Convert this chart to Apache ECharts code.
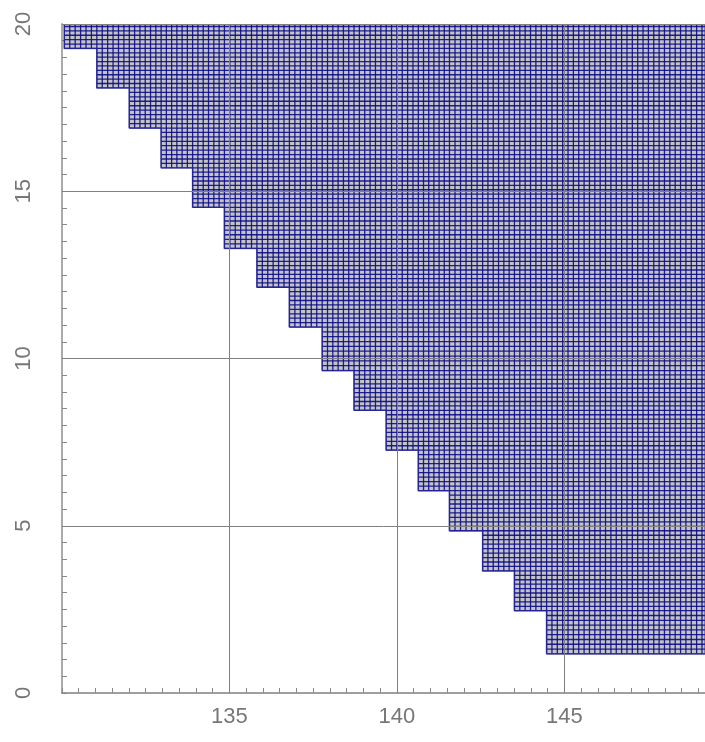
<!DOCTYPE html>
<html><head><meta charset="utf-8">
<script src="https://cdn.jsdelivr.net/npm/echarts@6/dist/echarts.min.js"></script>
<style>html,body{margin:0;padding:0;background:#fff}#c{width:705px;height:742px}</style>
</head><body><div id="c"></div>
<script>
// Staircase region: each step (column) starts at stepLeft[i] and is filled from stepBottom[i] up to regionTop
const stepLeft = [130.07,131.04,132.01,132.96,133.90,134.85,135.82,136.79,137.77,138.72,139.68,140.64,141.57,142.56,143.51,144.47];
const stepBottom = [19.27,18.09,16.89,15.70,14.52,13.29,12.13,10.94,9.64,8.45,7.26,6.05,4.85,3.65,2.46,1.17];
const regionTop = 20;
const regionRight = 149.2;
const gridX = [135,140,145];
const gridY = [5,10,15,20];
const xTickLabels = [135,140,145];
const yTickLabels = [0,5,10,15,20];
const meshCols = 6;   // mesh cells per step, horizontally
const meshRows = 9;   // mesh cells per step, vertically

const FONT = 'Liberation Sans, Arial, sans-serif';
const last = stepLeft.length - 1;

function renderItem(params, api) {
  const children = [];
  const pts = [];
  pts.push(api.coord([stepLeft[0], regionTop]));
  pts.push(api.coord([regionRight, regionTop]));
  pts.push(api.coord([regionRight, stepBottom[last]]));
  for (let i = last; i >= 0; i--) {
    pts.push(api.coord([stepLeft[i], stepBottom[i]]));
    if (i > 0) pts.push(api.coord([stepLeft[i], stepBottom[i - 1]]));
  }
  children.push({type:'polygon', shape:{points:pts}, style:{fill:'#c4c4c4', stroke:null}});
  const lineStyle = {stroke:'#0c0c88', lineWidth:1.3, opacity:0.9};
  // vertical mesh lines
  for (let i = 0; i <= last; i++) {
    const w = i < last ? stepLeft[i + 1] - stepLeft[i] : stepLeft[last] - stepLeft[last - 1];
    const end = i < last ? stepLeft[i + 1] - 1e-6 : regionRight;
    for (let k = 0; ; k++) {
      const x = stepLeft[i] + k * w / meshCols;
      if (x > end) break;
      const a = api.coord([x, stepBottom[i]]), b = api.coord([x, regionTop]);
      children.push({type:'line', shape:{x1:a[0], y1:a[1], x2:b[0], y2:b[1]}, style:lineStyle});
    }
  }
  // horizontal mesh lines
  for (let i = last; i >= 0; i--) {
    const h = i > 0 ? stepBottom[i - 1] - stepBottom[i] : stepBottom[0] - stepBottom[1];
    const end = i > 0 ? stepBottom[i - 1] - 1e-6 : regionTop;
    for (let k = 0; ; k++) {
      const y = stepBottom[i] + k * h / meshRows;
      if (y > end) break;
      const a = api.coord([stepLeft[i], y]), b = api.coord([regionRight, y]);
      children.push({type:'line', shape:{x1:a[0], y1:a[1], x2:b[0], y2:b[1]}, style:lineStyle});
    }
  }
  // outline
  children.push({type:'polygon', shape:{points:pts}, style:{fill:null, stroke:'rgba(40,40,160,0.6)', lineWidth:1.5}});
  return {type:'group', children};
}

const chart = echarts.init(document.getElementById('c'), null, {renderer:'canvas'});
const isOn = (v, list) => list.some(t => Math.abs(t - v) < 1e-6);
chart.setOption({
  animation:false,
  backgroundColor:'#fff',
  grid:{left:62, right:0, top:24, bottom:49, containLabel:false, outerBoundsMode:'none'},
  xAxis:{
    type:'value', min:130, max:regionRight, interval:0.5,
    axisLine:{show:true, onZero:false, lineStyle:{color:'#808080', width:1.5}},
    axisTick:{show:true, inside:true, length:5, lineStyle:{color:'#888', width:1}},
    axisLabel:{show:true, interval:0, margin:13, fontSize:22, color:'#777', fontFamily:FONT,
      formatter:v => isOn(v, xTickLabels) ? String(Math.round(v)) : ''},
    splitLine:{show:false}
  },
  yAxis:{
    type:'value', min:0, max:20, interval:0.5,
    axisLine:{show:true, onZero:false, lineStyle:{color:'#aaa', width:2}},
    axisTick:{show:true, inside:true, length:5, lineStyle:{color:'#888', width:1}},
    axisLabel:{show:true, interval:0, rotate:90, margin:27, fontSize:22, color:'#777', fontFamily:FONT,
      formatter:v => isOn(v, yTickLabels) ? String(Math.round(v)) : ''},
    splitLine:{show:false}
  },
  series:[
    {type:'custom', renderItem, data:[[0]], clip:true, silent:true, z:2},
    {type:'line', data:[], z:5, silent:true,
      markLine:{silent:true, symbol:'none', animation:false, label:{show:false},
        lineStyle:{color:'#808080', width:1, type:'solid'},
        emphasis:{disabled:true},
        data: gridX.map(v => ({xAxis:v})).concat(gridY.map(v => ({yAxis:v})))}}
  ]
});
</script>
</body></html>
